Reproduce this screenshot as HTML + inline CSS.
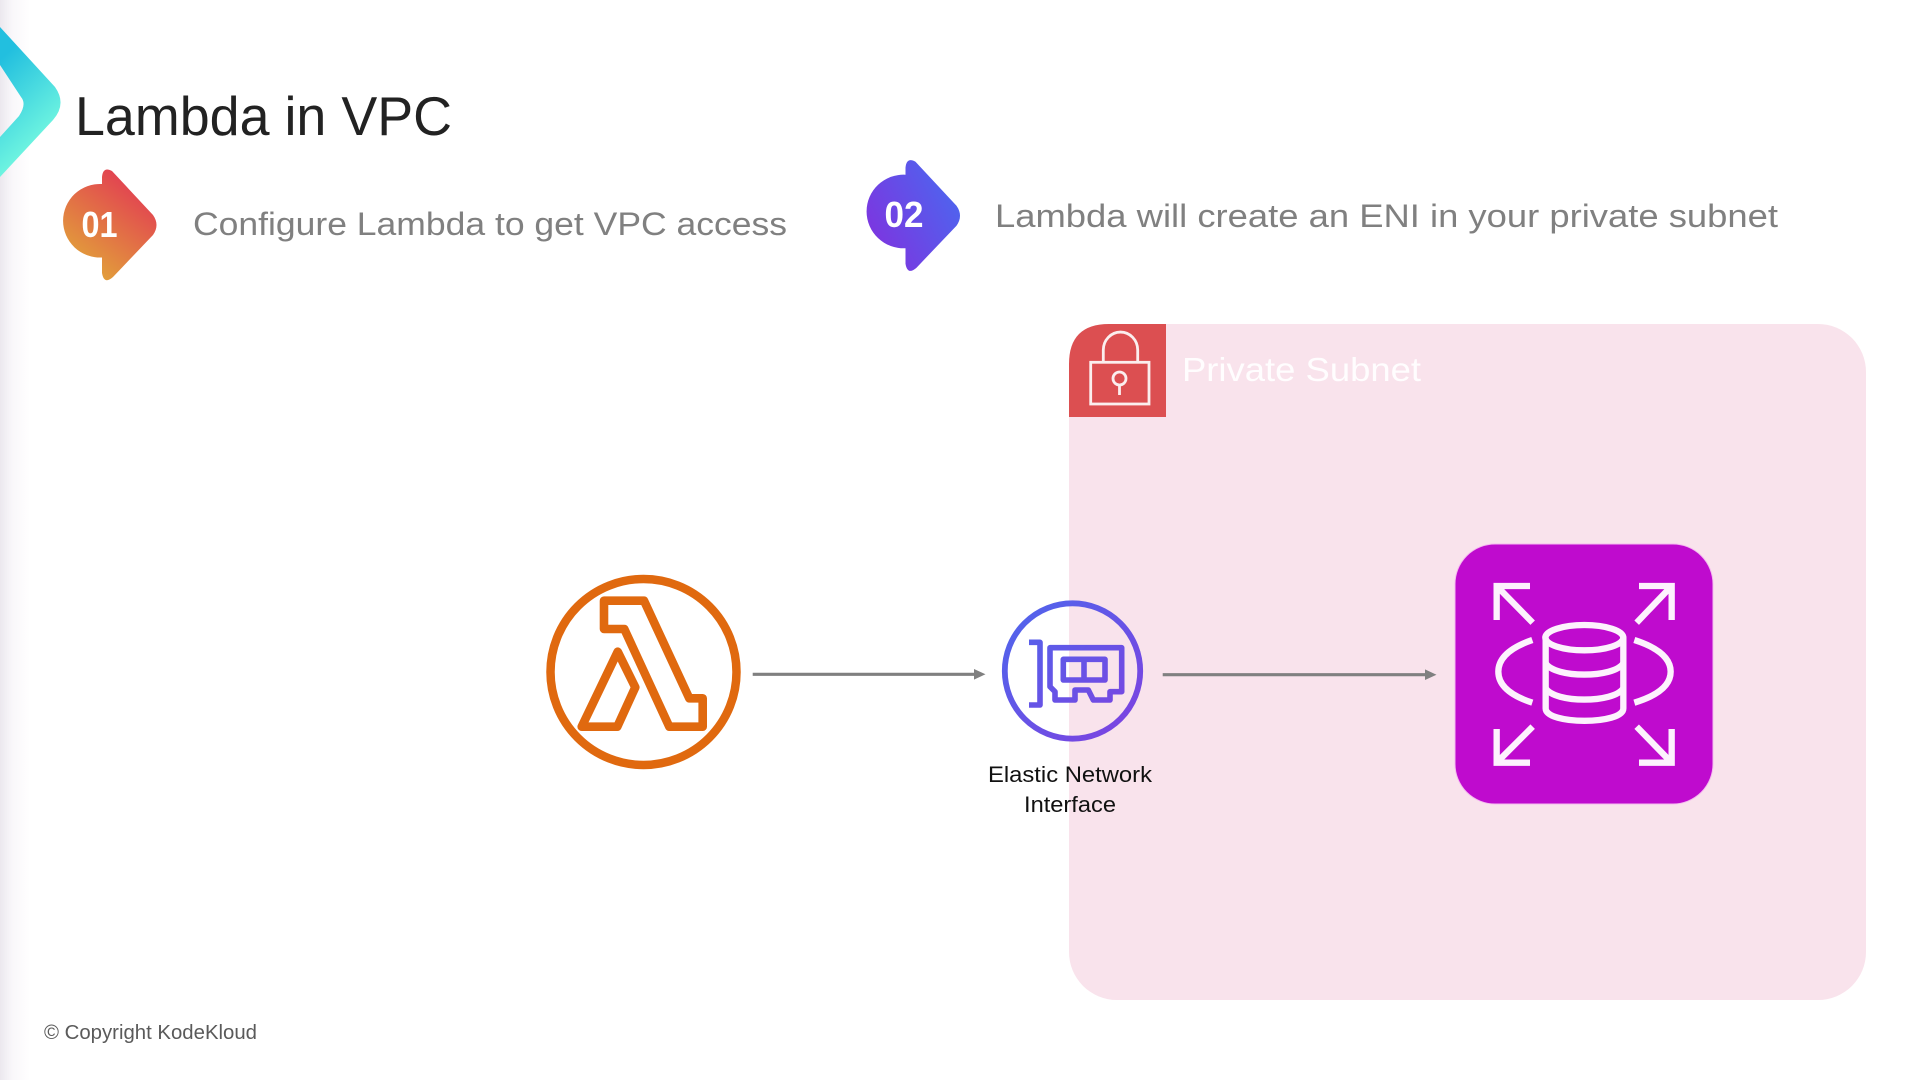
<!DOCTYPE html>
<html><head><meta charset="utf-8"><title>Lambda in VPC</title>
<style>html,body{margin:0;padding:0;background:#fff;width:1920px;height:1080px;overflow:hidden}svg{display:block}text{font-family:"Liberation Sans",sans-serif}</style></head>
<body>
<svg width="1920" height="1080" viewBox="0 0 1920 1080" xmlns="http://www.w3.org/2000/svg">
<defs>
<linearGradient id="side" x1="0" x2="1" y1="0" y2="0"><stop offset="0" stop-color="#ebe8ee"/><stop offset=".4" stop-color="#f9f7fa"/><stop offset="1" stop-color="#fff"/></linearGradient>
<linearGradient id="chev" gradientUnits="userSpaceOnUse" x1="0" y1="60" x2="62" y2="125"><stop offset="0" stop-color="#22bfdf"/><stop offset="1" stop-color="#72f7e0"/></linearGradient>
<linearGradient id="b1" gradientUnits="userSpaceOnUse" x1="140" y1="185" x2="80" y2="265"><stop offset="0" stop-color="#e23f52"/><stop offset="1" stop-color="#e2a03a"/></linearGradient>
<linearGradient id="b2" gradientUnits="userSpaceOnUse" x1="62" y1="250" x2="157" y2="200"><stop offset="0" stop-color="#7f33df"/><stop offset="1" stop-color="#4c66ef"/></linearGradient>
<linearGradient id="eni" gradientUnits="userSpaceOnUse" x1="1010" y1="610" x2="1135" y2="735"><stop offset="0" stop-color="#5065ec"/><stop offset="1" stop-color="#7d42e0"/></linearGradient>
</defs>
<rect width="1920" height="1080" fill="#fff"/>
<rect width="30" height="1080" fill="url(#side)"/>
<path d="M0 27 L55 87 Q67 104 53 120 L0 177 L0 137 L19 116 Q27 104 21 97 L0 65 Z" fill="url(#chev)"/>
<text x="75" y="135" font-size="55" fill="#222" textLength="377" lengthAdjust="spacingAndGlyphs">Lambda in VPC</text>

<path d="M102 184 L102 177 Q103 166 112 171 L153 215 Q160 225 153 235 L113 277 Q104 285 102 273 L102 257.5 A37 36.8 0 1 1 102 184 Z" fill="url(#b1)"/>
<text x="81.5" y="237" font-size="36" font-weight="700" fill="#fff" textLength="36" lengthAdjust="spacingAndGlyphs">01</text>
<text x="193" y="235" font-size="32" fill="#808080" textLength="594" lengthAdjust="spacingAndGlyphs">Configure Lambda to get VPC access</text>

<g transform="translate(803.5,-9.3)"><path d="M102 184 L102 177 Q103 166 112 171 L153 215 Q160 225 153 235 L113 277 Q104 285 102 273 L102 257.5 A37 36.8 0 1 1 102 184 Z" fill="url(#b2)"/></g>
<text x="884.5" y="227" font-size="36" font-weight="700" fill="#fff" textLength="39" lengthAdjust="spacingAndGlyphs">02</text>
<text x="995" y="227" font-size="32" fill="#808080" textLength="783" lengthAdjust="spacingAndGlyphs">Lambda will create an ENI in your private subnet</text>

<rect x="1069" y="324" width="797" height="676" rx="48" ry="48" fill="#f9e3ec"/>
<path d="M1166 324 L1166 417 L1069 417 L1069 364 Q1069 324 1109 324 Z" fill="#dc4f51"/>
<g fill="none" stroke="#fbeeee" stroke-width="2.8">
<rect x="1090.7" y="362.3" width="58.3" height="41.7"/>
<path d="M1103.3 362 L1103.3 350 A17.2 18 0 0 1 1137.7 350 L1137.7 362"/>
<circle cx="1119.5" cy="378.5" r="6.5"/>
<path d="M1119.5 385 L1119.5 395"/>
</g>
<text x="1182" y="381" font-size="33" fill="#ffffff" fill-opacity=".92" textLength="239" lengthAdjust="spacingAndGlyphs">Private Subnet</text>

<circle cx="643.5" cy="672" r="93" fill="none" stroke="#e0690f" stroke-width="8.5"/>
<g fill="none" stroke="#e0690f" stroke-width="8.6" stroke-linejoin="round">
<path d="M604 600.7 L644 600.7 L689.3 698.3 L702.7 698.3 L702.7 726.7 L669.3 726.7 L624.3 629 L604 629 Z"/>
<path d="M617.7 651.7 L635.3 687.3 L617.3 726.7 L581.7 726.7 Z"/>
</g>

<g stroke="#808080" stroke-width="3.2" fill="#808080">
<path d="M752.7 674.3 L976 674.3"/><path d="M974 669 L985.5 674.3 L974 679.6 Z" stroke="none"/>
<path d="M1162.7 674.7 L1427 674.7"/><path d="M1425 669.4 L1436.5 674.7 L1425 680 Z" stroke="none"/>
</g>

<circle cx="1072.5" cy="671" r="67.7" fill="none" stroke="url(#eni)" stroke-width="5.8"/>
<g fill="none" stroke="url(#eni)" stroke-width="5.6" stroke-linejoin="round">
<path d="M1029 642.3 L1040 642.3 L1040 705 L1029 705"/>
<path d="M1050 647.7 L1121.7 647.7 L1121.7 691.7 L1110 691.7 L1110 700 L1093.3 700 L1088.3 690 L1075 690 L1075 700 L1055 700 L1055 691.7 L1050 686.7 Z"/>
<rect x="1063.3" y="659.3" width="41.7" height="20.7"/>
<path d="M1084 659.3 L1084 680"/>
</g>
<text x="1070" y="782" font-size="22.5" fill="#111" text-anchor="middle" textLength="164" lengthAdjust="spacingAndGlyphs">Elastic Network</text>
<text x="1070" y="812" font-size="22.5" fill="#111" text-anchor="middle" textLength="92" lengthAdjust="spacingAndGlyphs">Interface</text>

<rect x="1455" y="544" width="258" height="260" rx="40" ry="40" fill="#bf0bce" stroke="#f5b9f0" stroke-width="1"/>
<g transform="translate(1440,530) scale(.33333)" fill="none" stroke="#fdf2fd" stroke-width="19">
<path d="M278 278 L170 168 M270 168 L170 168 L170 270"/>
<path d="M590 278 L695 168 M597 168 L695 168 L695 270"/>
<path d="M278 590 L170 698 M170 597 L170 698 L270 698"/>
<path d="M590 590 L695 698 M597 698 L695 698 L695 597"/>
<path d="M277 330 Q175 365 175 425 Q175 485 277 518"/>
<path d="M583 330 Q692 365 692 425 Q692 485 583 518"/>
<ellipse cx="433" cy="323" rx="117" ry="38"/>
<path d="M317 323 L317 535 C317 585 550 585 550 535 L550 323"/>
<path d="M317 400 C345 445 520 445 550 400"/>
<path d="M317 475 C345 520 520 520 550 475"/>
</g>

<text x="44" y="1039" font-size="20" fill="#5a5a5a" textLength="213" lengthAdjust="spacingAndGlyphs">© Copyright KodeKloud</text>
</svg>
</body></html>
